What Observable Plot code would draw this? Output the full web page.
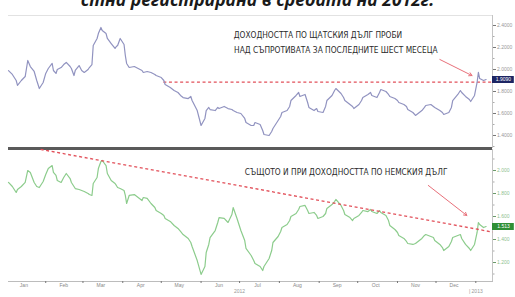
<!DOCTYPE html>
<html><head><meta charset="utf-8">
<script src="https://cdn.jsdelivr.net/npm/d3@7"></script>
<script src="https://cdn.jsdelivr.net/npm/@observablehq/plot@0.6"></script>
<style>
html,body{margin:0;padding:0;background:#fff;width:515px;height:297px;overflow:hidden;}
#wrap{position:relative;width:515px;height:297px;overflow:hidden;}
#title{position:absolute;left:0;width:515px;text-align:center;top:-9px;font:italic 700 17.5px/17px "Open Sans",sans-serif;color:#1a1a1a;white-space:nowrap;}
#top{position:absolute;left:0;top:15px;}
#bot{position:absolute;left:0;top:149px;}
#sep{position:absolute;left:8px;top:147px;width:484px;height:2.5px;background:#5a5a5a;}
svg{display:block;}
</style></head><body><div id="wrap">
<div id="title">стна регистрирана в средата на 2012г.</div>
<div id="top"></div>
<div id="sep"></div>
<div id="bot"></div>
</div>
<script>
const dates = ["2012-01-03","2012-01-06","2012-01-09","2012-01-10","2012-01-13","2012-01-16","2012-01-18","2012-01-20","2012-01-23","2012-01-25","2012-01-27","2012-01-30",
"2012-02-01","2012-02-03","2012-02-06","2012-02-07","2012-02-09","2012-02-10","2012-02-13","2012-02-15","2012-02-17","2012-02-20","2012-02-21","2012-02-23","2012-02-24","2012-02-27","2012-02-29",
"2012-03-02","2012-03-05","2012-03-06","2012-03-08","2012-03-09","2012-03-12","2012-03-13","2012-03-15","2012-03-16","2012-03-19","2012-03-20","2012-03-23","2012-03-26","2012-03-27","2012-03-28","2012-03-30",
"2012-04-02","2012-04-03","2012-04-04","2012-04-06","2012-04-10","2012-04-13","2012-04-16","2012-04-17","2012-04-20","2012-04-23","2012-04-26","2012-04-27",
"2012-05-01","2012-05-03","2012-05-04","2012-05-08","2012-05-11","2012-05-14","2012-05-16","2012-05-18","2012-05-22","2012-05-24","2012-05-25","2012-05-29",
"2012-06-01","2012-06-04","2012-06-05","2012-06-07","2012-06-08","2012-06-12","2012-06-14","2012-06-15","2012-06-19","2012-06-22","2012-06-25","2012-06-26","2012-06-29",
"2012-07-02","2012-07-05","2012-07-06","2012-07-10","2012-07-12","2012-07-13","2012-07-17","2012-07-19","2012-07-20","2012-07-24","2012-07-26","2012-07-27","2012-07-31",
"2012-08-02","2012-08-03","2012-08-07","2012-08-09","2012-08-10","2012-08-14","2012-08-16","2012-08-17","2012-08-21","2012-08-23","2012-08-24","2012-08-28","2012-08-30","2012-08-31",
"2012-09-04","2012-09-06","2012-09-07","2012-09-11","2012-09-13","2012-09-14","2012-09-18","2012-09-20","2012-09-21","2012-09-25","2012-09-27","2012-09-28",
"2012-10-02","2012-10-04","2012-10-05","2012-10-09","2012-10-11","2012-10-12","2012-10-16","2012-10-18","2012-10-19","2012-10-23","2012-10-25","2012-10-26","2012-10-30",
"2012-11-01","2012-11-02","2012-11-06","2012-11-08","2012-11-09","2012-11-13","2012-11-15","2012-11-16","2012-11-20","2012-11-22","2012-11-23","2012-11-27","2012-11-29","2012-11-30",
"2012-12-04","2012-12-06","2012-12-07","2012-12-11","2012-12-13","2012-12-14","2012-12-18","2012-12-20","2012-12-21","2012-12-24","2012-12-27","2012-12-28","2012-12-31",
"2013-01-02","2013-01-03","2013-01-04","2013-01-07","2013-01-09"];

const usYield = [1.99,1.955,1.90,1.855,1.90,1.936,2.082,2.027,1.982,1.90,1.827,1.882,
1.964,2.009,2.055,1.991,1.964,2.0,2.018,2.045,2.064,2.027,2.009,1.945,1.991,2.036,1.991,
1.973,2.0,2.018,2.045,2.218,2.282,2.327,2.382,2.355,2.327,2.282,2.236,2.191,2.209,2.218,2.282,
2.227,2.127,2.055,2.018,2.027,2.009,1.991,1.973,1.982,1.973,1.955,1.945,
1.927,1.90,1.864,1.836,1.809,1.791,1.764,1.745,1.736,1.755,1.718,1.627,
1.491,1.555,1.627,1.655,1.636,1.627,1.655,1.645,1.664,1.645,1.636,1.627,1.609,
1.60,1.555,1.518,1.491,1.491,1.518,1.50,1.445,1.409,1.40,1.436,1.464,1.536,
1.573,1.609,1.627,1.664,1.718,1.764,1.791,1.755,1.773,1.70,1.655,1.627,1.645,1.618,
1.609,1.664,1.718,1.764,1.809,1.827,1.782,1.745,1.718,1.682,1.664,1.645,
1.682,1.718,1.745,1.773,1.791,1.764,1.745,1.791,1.818,1.80,1.773,1.755,1.736,
1.718,1.70,1.682,1.664,1.636,1.609,1.582,1.591,1.627,1.655,1.673,1.682,1.664,1.655,
1.627,1.609,1.591,1.609,1.655,1.718,1.773,1.809,1.791,1.755,1.727,1.709,1.764,
1.882,1.973,1.918,1.90,1.909];

const deYield = [1.896,1.861,1.809,1.835,1.861,1.896,2.0,1.983,1.896,1.861,1.852,1.904,
1.965,2.017,2.043,1.983,1.957,1.913,1.896,1.939,1.974,1.930,1.896,1.861,1.843,1.835,1.826,
1.817,1.800,1.791,1.783,1.887,1.939,2.017,2.078,2.087,2.043,1.974,1.913,1.887,1.870,1.852,1.843,
1.826,1.783,1.713,1.783,1.791,1.765,1.739,1.765,1.757,1.713,1.678,1.652,
1.626,1.609,1.583,1.557,1.522,1.496,1.470,1.443,1.409,1.374,1.339,1.217,
1.096,1.165,1.287,1.357,1.417,1.478,1.548,1.591,1.583,1.548,1.617,1.678,1.583,
1.478,1.391,1.322,1.261,1.217,1.191,1.165,1.130,1.165,1.235,1.304,1.374,1.426,
1.470,1.504,1.530,1.565,1.600,1.626,1.661,1.687,1.696,1.652,1.626,1.635,1.609,1.583,
1.600,1.626,1.670,1.704,1.730,1.748,1.696,1.652,1.617,1.591,1.565,1.583,
1.609,1.635,1.652,1.643,1.661,1.643,1.626,1.652,1.635,1.609,1.565,1.522,1.487,
1.461,1.435,1.409,1.383,1.365,1.357,1.365,1.374,1.409,1.435,1.443,1.426,1.417,1.391,
1.357,1.330,1.304,1.339,1.383,1.417,1.435,1.443,1.409,1.357,1.322,1.304,1.357,
1.461,1.548,1.530,1.504,1.513];

const usTicks = [1.4,1.6,1.8,2.0,2.2,2.4];
const usMinorTicks = [1.3,1.5,1.7,1.9,2.1,2.3];
const deTicks = [1.2,1.4,1.6,1.8,2.0];
const deMinorTicks = [1.1,1.3,1.5,1.7,1.9,2.1];

const monthLabels = ["Jan","Feb","Mar","Apr","May","Jun","Jul","Aug","Sep","Oct","Nov","Dec"];
const monthMids = ["2012-01-15","2012-02-15","2012-03-15","2012-04-15","2012-05-15","2012-06-15","2012-07-15","2012-08-15","2012-09-15","2012-10-15","2012-11-15","2012-12-15"];
const monthStarts = ["2012-02-01","2012-03-01","2012-04-01","2012-05-01","2012-06-01","2012-07-01","2012-08-01","2012-09-01","2012-10-01","2012-11-01","2012-12-01","2013-01-01"];
const yearLabels = ["2012","| 2013"];
const yearDates = ["2012-07-01","2013-01-01"];

const usNoteLines = ["ДОХОДНОСТТА ПО ЩАТСКИЯ ДЪЛГ ПРОБИ","НАД СЪПРОТИВАТА ЗА ПОСЛЕДНИТЕ ШЕСТ МЕСЕЦА"];
const usNoteDates = ["2012-08-31","2012-09-14"];
const usNoteValues = [2.309,2.173];
const deNoteLines = ["СЪЩОТО И ПРИ ДОХОДНОСТТА ПО НЕМСКИЯ ДЪЛГ"];
const deNoteDates = ["2012-09-22"];
const deNoteValues = [1.983];

const usArrowDates = ["2012-12-04","2012-12-29"];
const usArrowValues = [2.091,1.945];
const deArrowDates = ["2012-11-25","2012-12-25"];
const deArrowValues = [1.870,1.609];

const usResistance = 1.886;
const usResistanceDates = ["2012-05-03","2013-01-14"];
const deTrendDates = ["2012-01-28","2013-01-14"];
const deTrendValues = [2.183,1.465];

const xDomainDates = ["2012-01-03","2013-01-14"];
const badgeEndDate = "2013-01-31";

const P = s => new Date(s + "T00:00:00Z");
const xDomain = xDomainDates.map(P);
const usRows = dates.map((d,i)=>({date:P(d), v:usYield[i]}));
const deRows = dates.map((d,i)=>({date:P(d), v:deYield[i]}));
const lastUS = usYield[usYield.length-1];
const lastDE = deYield[deYield.length-1];

const noteFont = "'Liberation Sans Narrow','DejaVu Sans Condensed','Arial Narrow','Liberation Sans',sans-serif";
const red = "#e2505a";

const topPlot = Plot.plot({
  width: 515, height: 132, marginLeft: 8, marginRight: 23, marginTop: 0, marginBottom: 0,
  x: {type: "utc", domain: xDomain, axis: null},
  y: {domain: [1.2909, 2.4909], axis: null},
  style: {background: "transparent", overflow: "visible", fontFamily: "Liberation Sans, sans-serif"},
  marks: [
    Plot.frame({anchor: "top", stroke: "#e2e2e2"}),
    Plot.frame({anchor: "right", stroke: "#c4c4c4"}),
    Plot.axisY(usMinorTicks, {anchor: "right", label: null, tickSize: 1.5, tickFormat: () => "", stroke: "#aaa"}),
    Plot.axisY(usTicks, {anchor: "right", label: null, tickSize: 3, tickPadding: 1.5, tickFormat: d3.format(".4f"), fontSize: 5, fill: "#999", stroke: "#777"}),
    Plot.ruleY([usResistance], {x1: P(usResistanceDates[0]), x2: P(usResistanceDates[1]), stroke: red, strokeWidth: 1.3, strokeDasharray: "3,2.6"}),
    Plot.line(usRows, {x: "date", y: "v", stroke: "#9193c0", strokeWidth: 1.2}),
    Plot.arrow([0], {x1: () => P(usArrowDates[0]), y1: () => usArrowValues[0], x2: () => P(usArrowDates[1]), y2: () => usArrowValues[1], stroke: "#e8707a", strokeWidth: 1, headLength: 5}),
    Plot.text(usNoteLines, {x: (d,i) => P(usNoteDates[i]), y: (d,i) => usNoteValues[i], text: d => d, fontSize: 8.3, fontFamily: noteFont, fill: "#2a2a2a", textAnchor: "middle"}),
    Plot.ruleY([lastUS], {x1: xDomain[1], x2: P(badgeEndDate), stroke: "#1d2563", strokeWidth: 7, clip: false}),
    Plot.text([lastUS], {x: xDomain[1], y: d => d, dx: 11, text: d3.format(".4f"), fill: "white", fontSize: 5, textAnchor: "middle"})
  ]
});
document.getElementById("top").appendChild(topPlot);

const botPlot = Plot.plot({
  width: 515, height: 148, marginLeft: 8, marginRight: 23, marginTop: 0, marginBottom: 16,
  x: {type: "utc", domain: xDomain, axis: null},
  y: {domain: [1.0348, 2.1826], axis: null},
  style: {background: "transparent", overflow: "visible", fontFamily: "Liberation Sans, sans-serif"},
  marks: [
    Plot.frame({anchor: "right", stroke: "#c4c4c4"}),
    Plot.frame({anchor: "bottom", stroke: "#bcbcbc"}),
    Plot.axisX(monthStarts.map(P), {label: null, tickSize: 2, tickFormat: () => "", stroke: "#777"}),
    Plot.axisX(monthMids.map(P), {label: null, tickSize: 0, tickPadding: 1.5, tickFormat: (d, i) => monthLabels[i], fontSize: 5, fill: "#888"}),
    Plot.text(yearLabels, {x: (d,i) => P(yearDates[i]), frameAnchor: "bottom", dy: 11, text: d => d, fontSize: 5, fill: "#999", textAnchor: (d,i) => i === 0 ? "middle" : "start"}),
    Plot.axisY(deMinorTicks, {anchor: "right", label: null, tickSize: 1.5, tickFormat: () => "", stroke: "#aaa"}),
    Plot.axisY(deTicks, {anchor: "right", label: null, tickSize: 3, tickPadding: 1.5, tickFormat: d3.format(".3f"), fontSize: 5, fill: "#8fbf8f", stroke: "#6a9a6a"}),
    Plot.line(deRows, {x: "date", y: "v", stroke: "#8ccc8c", strokeWidth: 1.2}),
    Plot.link([0], {x1: () => P(deTrendDates[0]), y1: () => deTrendValues[0], x2: () => P(deTrendDates[1]), y2: () => deTrendValues[1], stroke: red, strokeWidth: 1.3, strokeDasharray: "3,2.6"}),
    Plot.arrow([0], {x1: () => P(deArrowDates[0]), y1: () => deArrowValues[0], x2: () => P(deArrowDates[1]), y2: () => deArrowValues[1], stroke: "#e8707a", strokeWidth: 1, headLength: 5}),
    Plot.text(deNoteLines, {x: (d,i) => P(deNoteDates[i]), y: (d,i) => deNoteValues[i], text: d => d, fontSize: 8.3, fontFamily: noteFont, fill: "#2a2a2a", textAnchor: "middle"}),
    Plot.ruleY([lastDE], {x1: xDomain[1], x2: P(badgeEndDate), stroke: "#2f8f35", strokeWidth: 7, clip: false}),
    Plot.text([lastDE], {x: xDomain[1], y: d => d, dx: 11, text: d3.format(".3f"), fill: "white", fontSize: 5, textAnchor: "middle"})
  ]
});
document.getElementById("bot").appendChild(botPlot);
</script>
</body></html>
